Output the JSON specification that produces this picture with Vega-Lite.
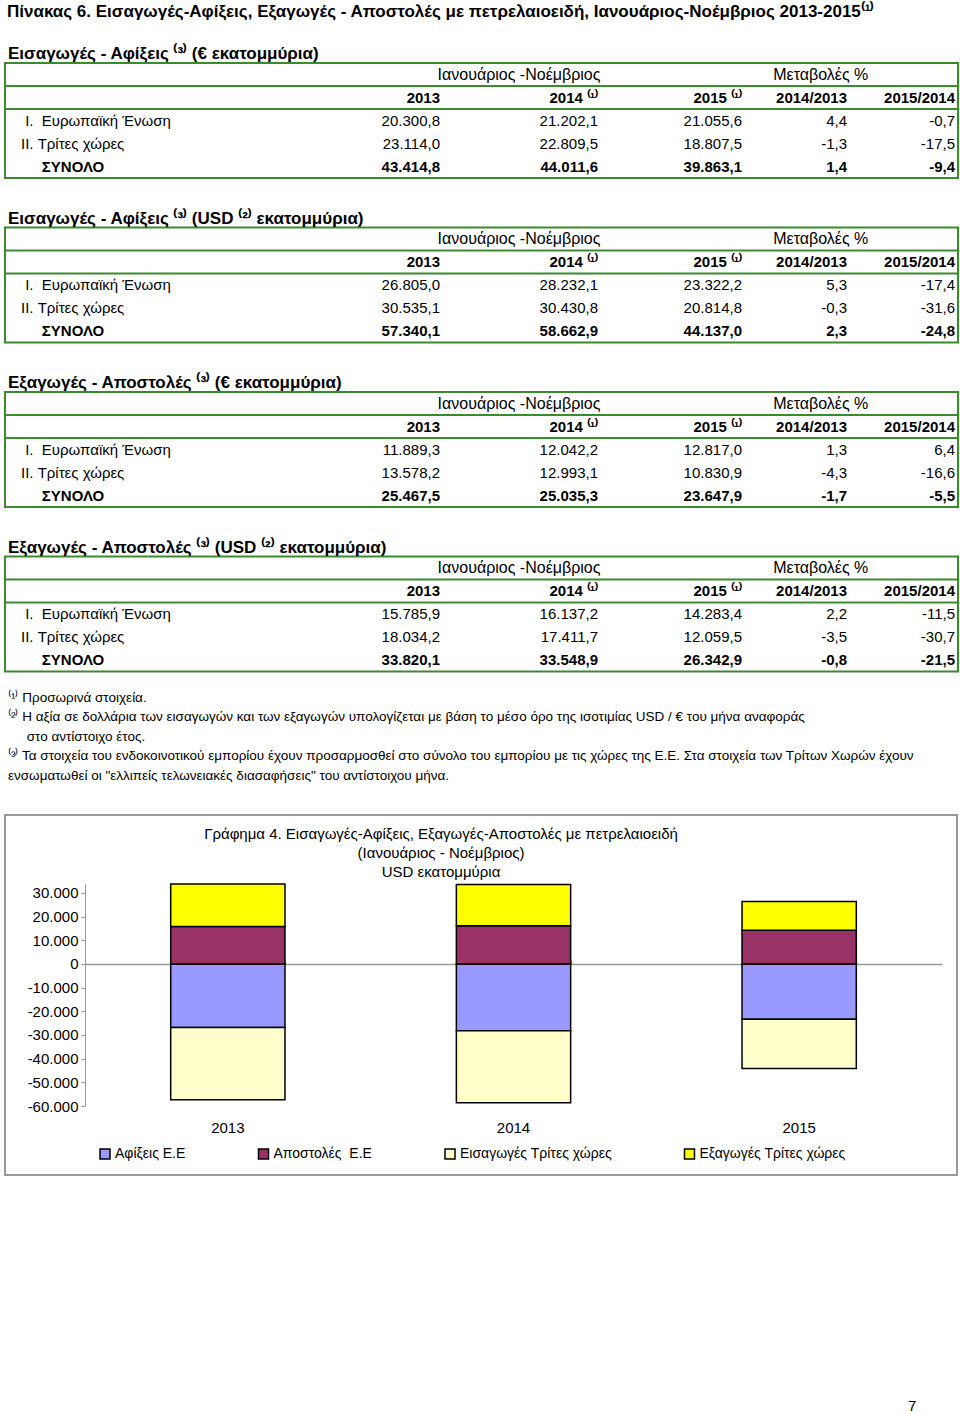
{
  "$schema": "https://vega.github.io/schema/vega-lite/v6.json",
  "padding": {"left": 3, "top": 3, "right": 2, "bottom": 0},
  "title": {"text": "Πίνακας 6. Εισαγωγές-Αφίξεις, Εξαγωγές - Αποστολές με πετρελαιοειδή, Ιανουάριος-Νοέμβριος 2013-2015⁽¹⁾", "anchor": "start", "fontSize": 17, "fontWeight": "bold", "dx": 4, "offset": 23, "color": "black"},
  "datasets": {
    "tables": [
      {"t": 1, "row": "r1", "name": "\u2060\u00a0I.\u00a0\u00a0Ευρωπαϊκή Ένωση", "y2013": 20300.8, "y2014": 21202.1, "y2015": 21055.6, "c1": 4.4, "c2": -0.7},
      {"t": 1, "row": "r2", "name": "II. Τρίτες χώρες", "y2013": 23114.0, "y2014": 22809.5, "y2015": 18807.5, "c1": -1.3, "c2": -17.5},
      {"t": 1, "row": "r3", "name": "\u2060\u00a0\u00a0\u00a0\u00a0\u00a0ΣΥΝΟΛΟ", "y2013": 43414.8, "y2014": 44011.6, "y2015": 39863.1, "c1": 1.4, "c2": -9.4},
      {"t": 2, "row": "r1", "name": "\u2060\u00a0I.\u00a0\u00a0Ευρωπαϊκή Ένωση", "y2013": 26805.0, "y2014": 28232.1, "y2015": 23322.2, "c1": 5.3, "c2": -17.4},
      {"t": 2, "row": "r2", "name": "II. Τρίτες χώρες", "y2013": 30535.1, "y2014": 30430.8, "y2015": 20814.8, "c1": -0.3, "c2": -31.6},
      {"t": 2, "row": "r3", "name": "\u2060\u00a0\u00a0\u00a0\u00a0\u00a0ΣΥΝΟΛΟ", "y2013": 57340.1, "y2014": 58662.9, "y2015": 44137.0, "c1": 2.3, "c2": -24.8},
      {"t": 3, "row": "r1", "name": "\u2060\u00a0I.\u00a0\u00a0Ευρωπαϊκή Ένωση", "y2013": 11889.3, "y2014": 12042.2, "y2015": 12817.0, "c1": 1.3, "c2": 6.4},
      {"t": 3, "row": "r2", "name": "II. Τρίτες χώρες", "y2013": 13578.2, "y2014": 12993.1, "y2015": 10830.9, "c1": -4.3, "c2": -16.6},
      {"t": 3, "row": "r3", "name": "\u2060\u00a0\u00a0\u00a0\u00a0\u00a0ΣΥΝΟΛΟ", "y2013": 25467.5, "y2014": 25035.3, "y2015": 23647.9, "c1": -1.7, "c2": -5.5},
      {"t": 4, "row": "r1", "name": "\u2060\u00a0I.\u00a0\u00a0Ευρωπαϊκή Ένωση", "y2013": 15785.9, "y2014": 16137.2, "y2015": 14283.4, "c1": 2.2, "c2": -11.5},
      {"t": 4, "row": "r2", "name": "II. Τρίτες χώρες", "y2013": 18034.2, "y2014": 17411.7, "y2015": 12059.5, "c1": -3.5, "c2": -30.7},
      {"t": 4, "row": "r3", "name": "\u2060\u00a0\u00a0\u00a0\u00a0\u00a0ΣΥΝΟΛΟ", "y2013": 33820.1, "y2014": 33548.9, "y2015": 26342.9, "c1": -0.8, "c2": -21.5}
    ],
    "cols": [
      {"key": "name", "ci": 0}, {"key": "y2013", "ci": 1}, {"key": "y2014", "ci": 2}, {"key": "y2015", "ci": 3}, {"key": "c1", "ci": 4}, {"key": "c2", "ci": 5}
    ],
    "hdr": [
      {"row": "h1", "ci": 1.5, "text": "Ιανουάριος -Νοέμβριος"},
      {"row": "h1", "ci": 3.75, "text": "Μεταβολές %"},
      {"row": "h2", "ci": 1, "text": "2013"},
      {"row": "h2", "ci": 2, "text": "2014 ⁽¹⁾"},
      {"row": "h2", "ci": 3, "text": "2015 ⁽¹⁾"},
      {"row": "h2", "ci": 4, "text": "2014/2013"},
      {"row": "h2", "ci": 5, "text": "2015/2014"}
    ],
    "notes": [
      {"n": 1, "text": "⁽¹⁾ Προσωρινά στοιχεία."},
      {"n": 2, "text": "⁽²⁾ Η αξία σε δολλάρια των εισαγωγών και των εξαγωγών υπολογίζεται με βάση το μέσο όρο της ισοτιμίας USD / € του μήνα αναφοράς"},
      {"n": 3, "text": "\u2060\u00a0\u00a0\u00a0\u00a0\u00a0στο αντίστοιχο έτος."},
      {"n": 4, "text": "⁽³⁾ Τα στοιχεία του ενδοκοινοτικού εμπορίου έχουν προσαρμοσθεί στο σύνολο του εμπορίου με τις χώρες της Ε.Ε. Στα στοιχεία των Τρίτων Χωρών έχουν"},
      {"n": 5, "text": "ενσωματωθεί οι \"ελλιπείς τελωνειακές διασαφήσεις\" του αντίστοιχου μήνα."}
    ],
    "chart": [
      {"year": "2013", "series": "Αφίξεις Ε.Ε", "value": -26805.0},
      {"year": "2013", "series": "Αποστολές\u00a0 Ε.Ε", "value": 15785.9},
      {"year": "2013", "series": "Εισαγωγές Τρίτες χώρες", "value": -30535.1},
      {"year": "2013", "series": "Εξαγωγές Τρίτες χώρες", "value": 18034.2},
      {"year": "2014", "series": "Αφίξεις Ε.Ε", "value": -28232.1},
      {"year": "2014", "series": "Αποστολές\u00a0 Ε.Ε", "value": 16137.2},
      {"year": "2014", "series": "Εισαγωγές Τρίτες χώρες", "value": -30430.8},
      {"year": "2014", "series": "Εξαγωγές Τρίτες χώρες", "value": 17411.7},
      {"year": "2015", "series": "Αφίξεις Ε.Ε", "value": -23322.2},
      {"year": "2015", "series": "Αποστολές\u00a0 Ε.Ε", "value": 14283.4},
      {"year": "2015", "series": "Εισαγωγές Τρίτες χώρες", "value": -20814.8},
      {"year": "2015", "series": "Εξαγωγές Τρίτες χώρες", "value": 12059.5}
    ]
  },
  "spacing": 15,
  "vconcat": [
    {
      "spacing": 29.5,
      "vconcat": [
        {
          "title": {"text": "Εισαγωγές - Αφίξεις ⁽³⁾ (€ εκατομμύρια)", "anchor": "start", "fontSize": 17, "fontWeight": "bold", "dx": 4, "offset": 0},
          "width": 953, "height": 115,
          "view": {"stroke": "#3a8a2e", "strokeWidth": 2},
          "layer": [
            {"data": {"name": "hdr"}, "transform": [{"filter": "datum.row === 'h2' && datum.ci === 1"}], "mark": {"type": "rule", "color": "#3a8a2e", "strokeWidth": 2}, "encoding": {"y": {"field": "row", "type": "nominal", "bandPosition": 0, "scale": {"domain": ["h1", "h2", "r1", "r2", "r3"], "paddingInner": 0, "paddingOuter": 0}, "axis": null}}},
            {"data": {"name": "tables"}, "transform": [{"filter": "datum.t === 1 && datum.row === 'r1'"}], "mark": {"type": "rule", "color": "#3a8a2e", "strokeWidth": 2}, "encoding": {"y": {"field": "row", "type": "nominal", "bandPosition": 0, "scale": {"domain": ["h1", "h2", "r1", "r2", "r3"], "paddingInner": 0, "paddingOuter": 0}, "axis": null}}},
            {"data": {"name": "hdr"}, "transform": [{"filter": "datum.row === 'h1'"}], "mark": {"type": "text", "align": "center", "baseline": "middle", "fontSize": 16}, "encoding": {"y": {"field": "row", "type": "nominal", "scale": {"domain": ["h1", "h2", "r1", "r2", "r3"], "paddingInner": 0, "paddingOuter": 0}, "axis": null}, "x": {"field": "ci", "type": "quantitative", "scale": {"domain": [0, 1, 2, 3, 4, 5], "range": [16, 435, 593, 737, 842, 950], "nice": false, "zero": false}, "axis": null}, "text": {"field": "text"}}},
            {"data": {"name": "hdr"}, "transform": [{"filter": "datum.row === 'h2'"}], "mark": {"type": "text", "align": "right", "baseline": "middle", "fontSize": 15, "fontWeight": "bold"}, "encoding": {"y": {"field": "row", "type": "nominal", "scale": {"domain": ["h1", "h2", "r1", "r2", "r3"], "paddingInner": 0, "paddingOuter": 0}, "axis": null}, "x": {"field": "ci", "type": "quantitative", "scale": {"domain": [0, 1, 2, 3, 4, 5], "range": [16, 435, 593, 737, 842, 950], "nice": false, "zero": false}, "axis": null}, "text": {"field": "text"}}},
            {"data": {"name": "tables"}, "transform": [{"filter": "datum.t === 1 && datum.row !== 'r3'"}, {"fold": ["name"]}, {"lookup": "key", "from": {"data": {"name": "cols"}, "key": "key", "fields": ["ci"]}}], "mark": {"type": "text", "align": "left", "baseline": "middle", "fontSize": 15}, "encoding": {"y": {"field": "row", "type": "nominal", "scale": {"domain": ["h1", "h2", "r1", "r2", "r3"], "paddingInner": 0, "paddingOuter": 0}, "axis": null}, "x": {"field": "ci", "type": "quantitative", "scale": {"domain": [0, 1, 2, 3, 4, 5], "range": [16, 435, 593, 737, 842, 950], "nice": false, "zero": false}, "axis": null}, "text": {"field": "value", "type": "nominal"}}},
            {"data": {"name": "tables"}, "transform": [{"filter": "datum.t === 1 && datum.row === 'r3'"}, {"fold": ["name"]}, {"lookup": "key", "from": {"data": {"name": "cols"}, "key": "key", "fields": ["ci"]}}], "mark": {"type": "text", "align": "left", "baseline": "middle", "fontSize": 15, "fontWeight": "bold"}, "encoding": {"y": {"field": "row", "type": "nominal", "scale": {"domain": ["h1", "h2", "r1", "r2", "r3"], "paddingInner": 0, "paddingOuter": 0}, "axis": null}, "x": {"field": "ci", "type": "quantitative", "scale": {"domain": [0, 1, 2, 3, 4, 5], "range": [16, 435, 593, 737, 842, 950], "nice": false, "zero": false}, "axis": null}, "text": {"field": "value", "type": "nominal"}}},
            {"data": {"name": "tables"}, "transform": [{"filter": "datum.t === 1 && datum.row !== 'r3'"}, {"fold": ["y2013", "y2014", "y2015", "c1", "c2"]}, {"lookup": "key", "from": {"data": {"name": "cols"}, "key": "key", "fields": ["ci"]}}], "mark": {"type": "text", "align": "right", "baseline": "middle", "fontSize": 15}, "encoding": {"y": {"field": "row", "type": "nominal", "scale": {"domain": ["h1", "h2", "r1", "r2", "r3"], "paddingInner": 0, "paddingOuter": 0}, "axis": null}, "x": {"field": "ci", "type": "quantitative", "scale": {"domain": [0, 1, 2, 3, 4, 5], "range": [16, 435, 593, 737, 842, 950], "nice": false, "zero": false}, "axis": null}, "text": {"field": "value", "type": "quantitative", "format": ",.1f"}}},
            {"data": {"name": "tables"}, "transform": [{"filter": "datum.t === 1 && datum.row === 'r3'"}, {"fold": ["y2013", "y2014", "y2015", "c1", "c2"]}, {"lookup": "key", "from": {"data": {"name": "cols"}, "key": "key", "fields": ["ci"]}}], "mark": {"type": "text", "align": "right", "baseline": "middle", "fontSize": 15, "fontWeight": "bold"}, "encoding": {"y": {"field": "row", "type": "nominal", "scale": {"domain": ["h1", "h2", "r1", "r2", "r3"], "paddingInner": 0, "paddingOuter": 0}, "axis": null}, "x": {"field": "ci", "type": "quantitative", "scale": {"domain": [0, 1, 2, 3, 4, 5], "range": [16, 435, 593, 737, 842, 950], "nice": false, "zero": false}, "axis": null}, "text": {"field": "value", "type": "quantitative", "format": ",.1f"}}}
          ]
        },
        {
          "title": {"text": "Εισαγωγές - Αφίξεις ⁽³⁾  (USD ⁽²⁾ εκατομμύρια)", "anchor": "start", "fontSize": 17, "fontWeight": "bold", "dx": 4, "offset": 0},
          "width": 953, "height": 115,
          "view": {"stroke": "#3a8a2e", "strokeWidth": 2},
          "layer": [
            {"data": {"name": "hdr"}, "transform": [{"filter": "datum.row === 'h2' && datum.ci === 1"}], "mark": {"type": "rule", "color": "#3a8a2e", "strokeWidth": 2}, "encoding": {"y": {"field": "row", "type": "nominal", "bandPosition": 0, "scale": {"domain": ["h1", "h2", "r1", "r2", "r3"], "paddingInner": 0, "paddingOuter": 0}, "axis": null}}},
            {"data": {"name": "tables"}, "transform": [{"filter": "datum.t === 2 && datum.row === 'r1'"}], "mark": {"type": "rule", "color": "#3a8a2e", "strokeWidth": 2}, "encoding": {"y": {"field": "row", "type": "nominal", "bandPosition": 0, "scale": {"domain": ["h1", "h2", "r1", "r2", "r3"], "paddingInner": 0, "paddingOuter": 0}, "axis": null}}},
            {"data": {"name": "hdr"}, "transform": [{"filter": "datum.row === 'h1'"}], "mark": {"type": "text", "align": "center", "baseline": "middle", "fontSize": 16}, "encoding": {"y": {"field": "row", "type": "nominal", "scale": {"domain": ["h1", "h2", "r1", "r2", "r3"], "paddingInner": 0, "paddingOuter": 0}, "axis": null}, "x": {"field": "ci", "type": "quantitative", "scale": {"domain": [0, 1, 2, 3, 4, 5], "range": [16, 435, 593, 737, 842, 950], "nice": false, "zero": false}, "axis": null}, "text": {"field": "text"}}},
            {"data": {"name": "hdr"}, "transform": [{"filter": "datum.row === 'h2'"}], "mark": {"type": "text", "align": "right", "baseline": "middle", "fontSize": 15, "fontWeight": "bold"}, "encoding": {"y": {"field": "row", "type": "nominal", "scale": {"domain": ["h1", "h2", "r1", "r2", "r3"], "paddingInner": 0, "paddingOuter": 0}, "axis": null}, "x": {"field": "ci", "type": "quantitative", "scale": {"domain": [0, 1, 2, 3, 4, 5], "range": [16, 435, 593, 737, 842, 950], "nice": false, "zero": false}, "axis": null}, "text": {"field": "text"}}},
            {"data": {"name": "tables"}, "transform": [{"filter": "datum.t === 2 && datum.row !== 'r3'"}, {"fold": ["name"]}, {"lookup": "key", "from": {"data": {"name": "cols"}, "key": "key", "fields": ["ci"]}}], "mark": {"type": "text", "align": "left", "baseline": "middle", "fontSize": 15}, "encoding": {"y": {"field": "row", "type": "nominal", "scale": {"domain": ["h1", "h2", "r1", "r2", "r3"], "paddingInner": 0, "paddingOuter": 0}, "axis": null}, "x": {"field": "ci", "type": "quantitative", "scale": {"domain": [0, 1, 2, 3, 4, 5], "range": [16, 435, 593, 737, 842, 950], "nice": false, "zero": false}, "axis": null}, "text": {"field": "value", "type": "nominal"}}},
            {"data": {"name": "tables"}, "transform": [{"filter": "datum.t === 2 && datum.row === 'r3'"}, {"fold": ["name"]}, {"lookup": "key", "from": {"data": {"name": "cols"}, "key": "key", "fields": ["ci"]}}], "mark": {"type": "text", "align": "left", "baseline": "middle", "fontSize": 15, "fontWeight": "bold"}, "encoding": {"y": {"field": "row", "type": "nominal", "scale": {"domain": ["h1", "h2", "r1", "r2", "r3"], "paddingInner": 0, "paddingOuter": 0}, "axis": null}, "x": {"field": "ci", "type": "quantitative", "scale": {"domain": [0, 1, 2, 3, 4, 5], "range": [16, 435, 593, 737, 842, 950], "nice": false, "zero": false}, "axis": null}, "text": {"field": "value", "type": "nominal"}}},
            {"data": {"name": "tables"}, "transform": [{"filter": "datum.t === 2 && datum.row !== 'r3'"}, {"fold": ["y2013", "y2014", "y2015", "c1", "c2"]}, {"lookup": "key", "from": {"data": {"name": "cols"}, "key": "key", "fields": ["ci"]}}], "mark": {"type": "text", "align": "right", "baseline": "middle", "fontSize": 15}, "encoding": {"y": {"field": "row", "type": "nominal", "scale": {"domain": ["h1", "h2", "r1", "r2", "r3"], "paddingInner": 0, "paddingOuter": 0}, "axis": null}, "x": {"field": "ci", "type": "quantitative", "scale": {"domain": [0, 1, 2, 3, 4, 5], "range": [16, 435, 593, 737, 842, 950], "nice": false, "zero": false}, "axis": null}, "text": {"field": "value", "type": "quantitative", "format": ",.1f"}}},
            {"data": {"name": "tables"}, "transform": [{"filter": "datum.t === 2 && datum.row === 'r3'"}, {"fold": ["y2013", "y2014", "y2015", "c1", "c2"]}, {"lookup": "key", "from": {"data": {"name": "cols"}, "key": "key", "fields": ["ci"]}}], "mark": {"type": "text", "align": "right", "baseline": "middle", "fontSize": 15, "fontWeight": "bold"}, "encoding": {"y": {"field": "row", "type": "nominal", "scale": {"domain": ["h1", "h2", "r1", "r2", "r3"], "paddingInner": 0, "paddingOuter": 0}, "axis": null}, "x": {"field": "ci", "type": "quantitative", "scale": {"domain": [0, 1, 2, 3, 4, 5], "range": [16, 435, 593, 737, 842, 950], "nice": false, "zero": false}, "axis": null}, "text": {"field": "value", "type": "quantitative", "format": ",.1f"}}}
          ]
        },
        {
          "title": {"text": "Εξαγωγές - Αποστολές ⁽³⁾ (€ εκατομμύρια)", "anchor": "start", "fontSize": 17, "fontWeight": "bold", "dx": 4, "offset": 0},
          "width": 953, "height": 115,
          "view": {"stroke": "#3a8a2e", "strokeWidth": 2},
          "layer": [
            {"data": {"name": "hdr"}, "transform": [{"filter": "datum.row === 'h2' && datum.ci === 1"}], "mark": {"type": "rule", "color": "#3a8a2e", "strokeWidth": 2}, "encoding": {"y": {"field": "row", "type": "nominal", "bandPosition": 0, "scale": {"domain": ["h1", "h2", "r1", "r2", "r3"], "paddingInner": 0, "paddingOuter": 0}, "axis": null}}},
            {"data": {"name": "tables"}, "transform": [{"filter": "datum.t === 3 && datum.row === 'r1'"}], "mark": {"type": "rule", "color": "#3a8a2e", "strokeWidth": 2}, "encoding": {"y": {"field": "row", "type": "nominal", "bandPosition": 0, "scale": {"domain": ["h1", "h2", "r1", "r2", "r3"], "paddingInner": 0, "paddingOuter": 0}, "axis": null}}},
            {"data": {"name": "hdr"}, "transform": [{"filter": "datum.row === 'h1'"}], "mark": {"type": "text", "align": "center", "baseline": "middle", "fontSize": 16}, "encoding": {"y": {"field": "row", "type": "nominal", "scale": {"domain": ["h1", "h2", "r1", "r2", "r3"], "paddingInner": 0, "paddingOuter": 0}, "axis": null}, "x": {"field": "ci", "type": "quantitative", "scale": {"domain": [0, 1, 2, 3, 4, 5], "range": [16, 435, 593, 737, 842, 950], "nice": false, "zero": false}, "axis": null}, "text": {"field": "text"}}},
            {"data": {"name": "hdr"}, "transform": [{"filter": "datum.row === 'h2'"}], "mark": {"type": "text", "align": "right", "baseline": "middle", "fontSize": 15, "fontWeight": "bold"}, "encoding": {"y": {"field": "row", "type": "nominal", "scale": {"domain": ["h1", "h2", "r1", "r2", "r3"], "paddingInner": 0, "paddingOuter": 0}, "axis": null}, "x": {"field": "ci", "type": "quantitative", "scale": {"domain": [0, 1, 2, 3, 4, 5], "range": [16, 435, 593, 737, 842, 950], "nice": false, "zero": false}, "axis": null}, "text": {"field": "text"}}},
            {"data": {"name": "tables"}, "transform": [{"filter": "datum.t === 3 && datum.row !== 'r3'"}, {"fold": ["name"]}, {"lookup": "key", "from": {"data": {"name": "cols"}, "key": "key", "fields": ["ci"]}}], "mark": {"type": "text", "align": "left", "baseline": "middle", "fontSize": 15}, "encoding": {"y": {"field": "row", "type": "nominal", "scale": {"domain": ["h1", "h2", "r1", "r2", "r3"], "paddingInner": 0, "paddingOuter": 0}, "axis": null}, "x": {"field": "ci", "type": "quantitative", "scale": {"domain": [0, 1, 2, 3, 4, 5], "range": [16, 435, 593, 737, 842, 950], "nice": false, "zero": false}, "axis": null}, "text": {"field": "value", "type": "nominal"}}},
            {"data": {"name": "tables"}, "transform": [{"filter": "datum.t === 3 && datum.row === 'r3'"}, {"fold": ["name"]}, {"lookup": "key", "from": {"data": {"name": "cols"}, "key": "key", "fields": ["ci"]}}], "mark": {"type": "text", "align": "left", "baseline": "middle", "fontSize": 15, "fontWeight": "bold"}, "encoding": {"y": {"field": "row", "type": "nominal", "scale": {"domain": ["h1", "h2", "r1", "r2", "r3"], "paddingInner": 0, "paddingOuter": 0}, "axis": null}, "x": {"field": "ci", "type": "quantitative", "scale": {"domain": [0, 1, 2, 3, 4, 5], "range": [16, 435, 593, 737, 842, 950], "nice": false, "zero": false}, "axis": null}, "text": {"field": "value", "type": "nominal"}}},
            {"data": {"name": "tables"}, "transform": [{"filter": "datum.t === 3 && datum.row !== 'r3'"}, {"fold": ["y2013", "y2014", "y2015", "c1", "c2"]}, {"lookup": "key", "from": {"data": {"name": "cols"}, "key": "key", "fields": ["ci"]}}], "mark": {"type": "text", "align": "right", "baseline": "middle", "fontSize": 15}, "encoding": {"y": {"field": "row", "type": "nominal", "scale": {"domain": ["h1", "h2", "r1", "r2", "r3"], "paddingInner": 0, "paddingOuter": 0}, "axis": null}, "x": {"field": "ci", "type": "quantitative", "scale": {"domain": [0, 1, 2, 3, 4, 5], "range": [16, 435, 593, 737, 842, 950], "nice": false, "zero": false}, "axis": null}, "text": {"field": "value", "type": "quantitative", "format": ",.1f"}}},
            {"data": {"name": "tables"}, "transform": [{"filter": "datum.t === 3 && datum.row === 'r3'"}, {"fold": ["y2013", "y2014", "y2015", "c1", "c2"]}, {"lookup": "key", "from": {"data": {"name": "cols"}, "key": "key", "fields": ["ci"]}}], "mark": {"type": "text", "align": "right", "baseline": "middle", "fontSize": 15, "fontWeight": "bold"}, "encoding": {"y": {"field": "row", "type": "nominal", "scale": {"domain": ["h1", "h2", "r1", "r2", "r3"], "paddingInner": 0, "paddingOuter": 0}, "axis": null}, "x": {"field": "ci", "type": "quantitative", "scale": {"domain": [0, 1, 2, 3, 4, 5], "range": [16, 435, 593, 737, 842, 950], "nice": false, "zero": false}, "axis": null}, "text": {"field": "value", "type": "quantitative", "format": ",.1f"}}}
          ]
        },
        {
          "title": {"text": "Εξαγωγές - Αποστολές ⁽³⁾ (USD ⁽²⁾ εκατομμύρια)", "anchor": "start", "fontSize": 17, "fontWeight": "bold", "dx": 4, "offset": 0},
          "width": 953, "height": 115,
          "view": {"stroke": "#3a8a2e", "strokeWidth": 2},
          "layer": [
            {"data": {"name": "hdr"}, "transform": [{"filter": "datum.row === 'h2' && datum.ci === 1"}], "mark": {"type": "rule", "color": "#3a8a2e", "strokeWidth": 2}, "encoding": {"y": {"field": "row", "type": "nominal", "bandPosition": 0, "scale": {"domain": ["h1", "h2", "r1", "r2", "r3"], "paddingInner": 0, "paddingOuter": 0}, "axis": null}}},
            {"data": {"name": "tables"}, "transform": [{"filter": "datum.t === 4 && datum.row === 'r1'"}], "mark": {"type": "rule", "color": "#3a8a2e", "strokeWidth": 2}, "encoding": {"y": {"field": "row", "type": "nominal", "bandPosition": 0, "scale": {"domain": ["h1", "h2", "r1", "r2", "r3"], "paddingInner": 0, "paddingOuter": 0}, "axis": null}}},
            {"data": {"name": "hdr"}, "transform": [{"filter": "datum.row === 'h1'"}], "mark": {"type": "text", "align": "center", "baseline": "middle", "fontSize": 16}, "encoding": {"y": {"field": "row", "type": "nominal", "scale": {"domain": ["h1", "h2", "r1", "r2", "r3"], "paddingInner": 0, "paddingOuter": 0}, "axis": null}, "x": {"field": "ci", "type": "quantitative", "scale": {"domain": [0, 1, 2, 3, 4, 5], "range": [16, 435, 593, 737, 842, 950], "nice": false, "zero": false}, "axis": null}, "text": {"field": "text"}}},
            {"data": {"name": "hdr"}, "transform": [{"filter": "datum.row === 'h2'"}], "mark": {"type": "text", "align": "right", "baseline": "middle", "fontSize": 15, "fontWeight": "bold"}, "encoding": {"y": {"field": "row", "type": "nominal", "scale": {"domain": ["h1", "h2", "r1", "r2", "r3"], "paddingInner": 0, "paddingOuter": 0}, "axis": null}, "x": {"field": "ci", "type": "quantitative", "scale": {"domain": [0, 1, 2, 3, 4, 5], "range": [16, 435, 593, 737, 842, 950], "nice": false, "zero": false}, "axis": null}, "text": {"field": "text"}}},
            {"data": {"name": "tables"}, "transform": [{"filter": "datum.t === 4 && datum.row !== 'r3'"}, {"fold": ["name"]}, {"lookup": "key", "from": {"data": {"name": "cols"}, "key": "key", "fields": ["ci"]}}], "mark": {"type": "text", "align": "left", "baseline": "middle", "fontSize": 15}, "encoding": {"y": {"field": "row", "type": "nominal", "scale": {"domain": ["h1", "h2", "r1", "r2", "r3"], "paddingInner": 0, "paddingOuter": 0}, "axis": null}, "x": {"field": "ci", "type": "quantitative", "scale": {"domain": [0, 1, 2, 3, 4, 5], "range": [16, 435, 593, 737, 842, 950], "nice": false, "zero": false}, "axis": null}, "text": {"field": "value", "type": "nominal"}}},
            {"data": {"name": "tables"}, "transform": [{"filter": "datum.t === 4 && datum.row === 'r3'"}, {"fold": ["name"]}, {"lookup": "key", "from": {"data": {"name": "cols"}, "key": "key", "fields": ["ci"]}}], "mark": {"type": "text", "align": "left", "baseline": "middle", "fontSize": 15, "fontWeight": "bold"}, "encoding": {"y": {"field": "row", "type": "nominal", "scale": {"domain": ["h1", "h2", "r1", "r2", "r3"], "paddingInner": 0, "paddingOuter": 0}, "axis": null}, "x": {"field": "ci", "type": "quantitative", "scale": {"domain": [0, 1, 2, 3, 4, 5], "range": [16, 435, 593, 737, 842, 950], "nice": false, "zero": false}, "axis": null}, "text": {"field": "value", "type": "nominal"}}},
            {"data": {"name": "tables"}, "transform": [{"filter": "datum.t === 4 && datum.row !== 'r3'"}, {"fold": ["y2013", "y2014", "y2015", "c1", "c2"]}, {"lookup": "key", "from": {"data": {"name": "cols"}, "key": "key", "fields": ["ci"]}}], "mark": {"type": "text", "align": "right", "baseline": "middle", "fontSize": 15}, "encoding": {"y": {"field": "row", "type": "nominal", "scale": {"domain": ["h1", "h2", "r1", "r2", "r3"], "paddingInner": 0, "paddingOuter": 0}, "axis": null}, "x": {"field": "ci", "type": "quantitative", "scale": {"domain": [0, 1, 2, 3, 4, 5], "range": [16, 435, 593, 737, 842, 950], "nice": false, "zero": false}, "axis": null}, "text": {"field": "value", "type": "quantitative", "format": ",.1f"}}},
            {"data": {"name": "tables"}, "transform": [{"filter": "datum.t === 4 && datum.row === 'r3'"}, {"fold": ["y2013", "y2014", "y2015", "c1", "c2"]}, {"lookup": "key", "from": {"data": {"name": "cols"}, "key": "key", "fields": ["ci"]}}], "mark": {"type": "text", "align": "right", "baseline": "middle", "fontSize": 15, "fontWeight": "bold"}, "encoding": {"y": {"field": "row", "type": "nominal", "scale": {"domain": ["h1", "h2", "r1", "r2", "r3"], "paddingInner": 0, "paddingOuter": 0}, "axis": null}, "x": {"field": "ci", "type": "quantitative", "scale": {"domain": [0, 1, 2, 3, 4, 5], "range": [16, 435, 593, 737, 842, 950], "nice": false, "zero": false}, "axis": null}, "text": {"field": "value", "type": "quantitative", "format": ",.1f"}}}
          ]
        }
      ]
    },
    {
      "width": 953, "height": 111,
      "data": {"name": "notes"},
      "mark": {"type": "text", "align": "left", "baseline": "middle", "fontSize": 13.5, "dx": 3},
      "encoding": {
        "y": {"field": "n", "type": "ordinal", "scale": {"range": [0, 97.5], "paddingInner": 0, "paddingOuter": 0}, "axis": null},
        "x": {"datum": 0, "type": "quantitative", "scale": {"domain": [0, 1]}, "axis": null},
        "text": {"field": "text"}
      }
    },
    {
      "width": 952, "height": 360,
      "view": {"stroke": "#9a9a9a", "strokeWidth": 2},
      "title": {"text": ["Γράφημα 4. Εισαγωγές-Αφίξεις,  Εξαγωγές-Αποστολές με πετρελαιοειδή", "(Ιανουάριος - Νοέμβριος)", "USD εκατομμύρια"], "anchor": "middle", "fontSize": 15, "fontWeight": "normal", "lineHeight": 19, "offset": -65, "dx": -40},
      "data": {"name": "chart"},
      "resolve": {"axis": {"x": "independent"}},
      "layer": [
        {
          "mark": {"type": "bar", "stroke": "black", "strokeWidth": 1.5},
          "encoding": {
            "x": {"field": "year", "type": "nominal", "scale": {"range": [80, 937], "paddingInner": 0.6, "paddingOuter": 0.3}, "axis": {"orient": "bottom", "offset": -55, "title": null, "labelAngle": 0, "domain": false, "ticks": false, "labelFontSize": 15, "labelPadding": 0, "labelColor": "black"}},
            "y": {"field": "value", "type": "quantitative", "stack": "zero", "scale": {"domain": [-60000, 34000], "range": [291, 68.5], "nice": false, "zero": false}, "axis": {"orient": "left", "offset": -80, "values": [-60000, -50000, -40000, -30000, -20000, -10000, 0, 10000, 20000, 30000], "format": ",d", "title": null, "domainColor": "#999999", "tickColor": "#999999", "tickSize": 4, "labelFontSize": 15, "labelPadding": 3, "labelColor": "black", "grid": true, "gridColor": "#999999", "gridWidth": 1.5, "gridOpacity": {"condition": {"test": "datum.value === 0", "value": 1}, "value": 0}}},
            "order": {"field": "series", "sort": "ascending"},
            "color": {"field": "series", "type": "nominal", "scale": {"domain": ["Αφίξεις Ε.Ε", "Αποστολές\u00a0 Ε.Ε", "Εισαγωγές Τρίτες χώρες", "Εξαγωγές Τρίτες χώρες"], "range": ["#9999ff", "#993366", "#ffffcc", "#ffff00"]}, "legend": {"orient": "none", "legendX": 93, "legendY": 1084, "direction": "horizontal", "title": null, "symbolType": "square", "symbolSize": 100, "symbolStrokeColor": "black", "symbolStrokeWidth": 1.5, "labelFontSize": 14, "labelColor": "black", "columnPadding": 69.5, "labelOffset": 3}}
          }
        },
        {
          "mark": {"type": "text", "text": ""},
          "encoding": {
            "x": {"field": "year", "type": "nominal", "scale": {"range": [80, 937], "paddingInner": 0.6, "paddingOuter": 0.3}, "axis": {"orient": "top", "offset": -149, "title": null, "labels": false, "domain": false, "ticks": true, "tickBand": "extent", "tickSize": 4, "tickColor": "#999999", "tickWidth": 1.5}},
            "y": {"datum": 0, "type": "quantitative", "scale": {"domain": [-60000, 34000], "range": [291, 68.5], "nice": false, "zero": false}, "axis": {"orient": "left", "offset": -80, "values": [-60000, -50000, -40000, -30000, -20000, -10000, 0, 10000, 20000, 30000], "format": ",d", "title": null, "domainColor": "#999999", "tickColor": "#999999", "tickSize": 4, "labelFontSize": 15, "labelPadding": 3, "labelColor": "black", "grid": true, "gridColor": "#999999", "gridWidth": 1.5, "gridOpacity": {"condition": {"test": "datum.value === 0", "value": 1}, "value": 0}}}
          }
        }
      ]
    },
    {
      "width": 953, "height": 223,
      "data": {"values": [{"p": "7"}]},
      "mark": {"type": "text", "fontSize": 15, "baseline": "bottom", "align": "center"},
      "encoding": {
        "x": {"datum": 0.952, "type": "quantitative", "scale": {"domain": [0, 1]}, "axis": null},
        "y": {"datum": 0, "type": "quantitative", "scale": {"domain": [0, 1]}, "axis": null},
        "text": {"field": "p"}
      }
    }
  ],
  "config": {
    "font": "Liberation Sans",
    "view": {"stroke": null},
    "title": {"color": "black"},
    "text": {"color": "black"},
    "locale": {"number": {"decimal": ",", "thousands": ".", "grouping": [3], "currency": ["", " €"], "minus": "-"}}
  }
}
